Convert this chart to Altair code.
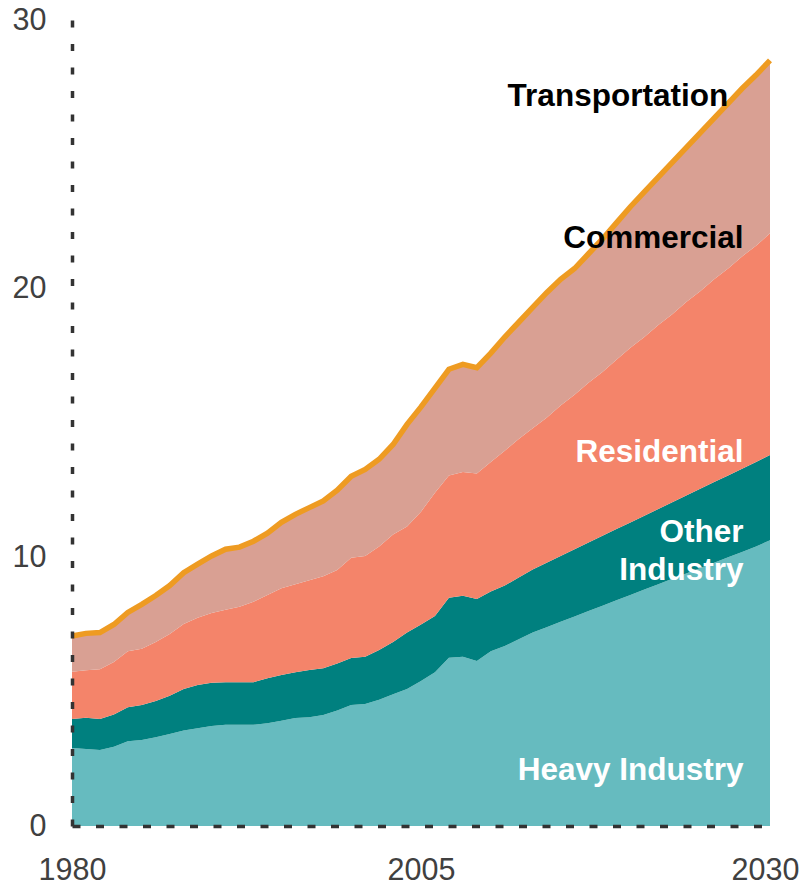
import altair as alt
import pandas as pd

years = list(range(1980, 2031))

# cumulative upper boundaries
heavy_top = [2.90, 2.87, 2.83, 2.95, 3.15, 3.20, 3.30, 3.42, 3.55, 3.64,
             3.72, 3.77, 3.77, 3.77, 3.82, 3.92, 4.02, 4.05, 4.13, 4.30,
             4.50, 4.54, 4.70, 4.90, 5.10, 5.40, 5.72, 6.26, 6.30, 6.14,
             6.50, 6.70, 6.95, 7.20, 7.40, 7.60, 7.80, 8.00, 8.20, 8.40,
             8.60, 8.80, 9.00, 9.20, 9.40, 9.60, 9.80, 10.00, 10.20, 10.40,
             10.64]
other_top = [3.98, 4.03, 3.98, 4.15, 4.42, 4.50, 4.65, 4.85, 5.10, 5.25,
             5.33, 5.35, 5.35, 5.35, 5.50, 5.62, 5.72, 5.81, 5.87, 6.05,
             6.25, 6.30, 6.55, 6.85, 7.20, 7.50, 7.82, 8.50, 8.57, 8.45,
             8.73, 8.95, 9.25, 9.55, 9.80, 10.05, 10.30, 10.55, 10.80, 11.05,
             11.30, 11.55, 11.80, 12.05, 12.30, 12.55, 12.80, 13.05, 13.30, 13.55,
             13.81]
resid_top = [5.74, 5.80, 5.83, 6.10, 6.50, 6.60, 6.85, 7.15, 7.52, 7.75,
             7.93, 8.05, 8.16, 8.35, 8.60, 8.85, 9.00, 9.15, 9.30, 9.53,
             9.98, 10.05, 10.40, 10.85, 11.15, 11.70, 12.40, 13.05, 13.18, 13.12,
             13.55, 13.97, 14.40, 14.80, 15.20, 15.65, 16.05, 16.50, 16.90, 17.35,
             17.80, 18.20, 18.65, 19.05, 19.50, 19.90, 20.35, 20.75, 21.20, 21.60,
             22.06]
total_top = [7.07, 7.17, 7.20, 7.50, 7.95, 8.25, 8.58, 8.95, 9.43, 9.75,
             10.05, 10.30, 10.38, 10.60, 10.90, 11.30, 11.60, 11.85, 12.10, 12.50,
             13.02, 13.27, 13.65, 14.20, 14.95, 15.60, 16.30, 17.00, 17.18, 17.06,
             17.60, 18.20, 18.75, 19.30, 19.85, 20.35, 20.75, 21.30, 21.85, 22.45,
             23.05, 23.60, 24.15, 24.70, 25.25, 25.80, 26.35, 26.90, 27.45, 27.95,
             28.50]

series = ["Heavy Industry", "Other Industry", "Residential", "Commercial"]
colors = ["#66BBBF", "#00807F", "#F4846A", "#D9A093"]
line_color = "#EE9B22"

label_text = ["Transportation", "Commercial", "Residential", "Other", "Industry", "Heavy Industry"]
label_year = [2027.0, 2028.1, 2028.1, 2028.1, 2028.1, 2028.1]
label_val = [26.8, 21.5, 13.56, 10.58, 9.16, 1.71]
label_color = ["#000000", "#000000", "#FFFFFF", "#FFFFFF", "#FFFFFF", "#FFFFFF"]

zeros = [0.0] * len(years)
bounds = [zeros, heavy_top, other_top, resid_top, total_top]
rows = []
for i, s in enumerate(series):
    for j, yr in enumerate(years):
        rows.append({"year": yr, "series": s, "lo": bounds[i][j], "hi": bounds[i + 1][j]})
areas_df = pd.DataFrame(rows)
line_df = pd.DataFrame({"year": years, "total": total_top})
labels_df = pd.DataFrame({"text": label_text, "year": label_year, "val": label_val, "color": label_color})

FONT = "Liberation Sans"
xscale = alt.Scale(domain=[1980, 2030], nice=False, zero=False)
yscale = alt.Scale(domain=[0, 30], nice=False)

xaxis = alt.Axis(values=[1980, 2005, 2030], format="d", title=None, grid=False,
                 tickSize=0, labelFontSize=30.5, labelFont=FONT, labelColor="#404040",
                 labelPadding=29, domainDash=[8, 15.5], domainWidth=3.5,
                 domainColor="#333333", zindex=1, labelFlush=False,
                 labelOffset={"condition": {"test": "datum.value == 2030", "value": -5}, "value": 0})
yaxis = alt.Axis(values=[0, 10, 20, 30], title=None, grid=False, tickSize=0,
                 labelFontSize=30.5, labelFont=FONT, labelColor="#404040",
                 labelPadding=26, domainDash=[7, 16.5], domainWidth=3.5,
                 domainColor="#333333", zindex=1)

areas = alt.Chart(areas_df).mark_area(interpolate="linear").encode(
    x=alt.X("year:Q", scale=xscale, axis=xaxis),
    y=alt.Y("hi:Q", scale=yscale, axis=yaxis),
    y2="lo:Q",
    color=alt.Color("series:N", scale=alt.Scale(domain=series, range=colors), legend=None),
    order=alt.Order("series:N"),
)

line = alt.Chart(line_df).mark_line(color=line_color, strokeWidth=5.5, strokeCap="butt").encode(
    x=alt.X("year:Q", scale=xscale),
    y=alt.Y("total:Q", scale=yscale),
)

texts = alt.Chart(labels_df).mark_text(
    align="right", baseline="alphabetic", font=FONT, fontSize=31.5, fontWeight="bold"
).encode(
    x=alt.X("year:Q", scale=xscale),
    y=alt.Y("val:Q", scale=yscale),
    text="text:N",
    color=alt.Color("color:N", scale=None, legend=None),
)

chart = alt.layer(areas, line, texts).properties(
    width=698, height=806,
    autosize=alt.AutoSizeParams(type="none"),
    padding={"left": 64, "top": 12, "right": 29, "bottom": 58},
).configure_view(stroke=None)

chart.save("out.html", embed_options={"renderer": "svg", "actions": False})
